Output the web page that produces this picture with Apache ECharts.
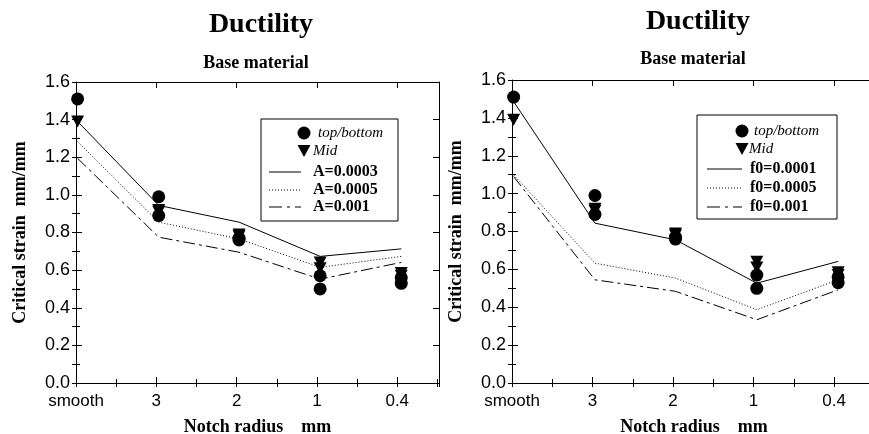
<!DOCTYPE html>
<html>
<head>
<meta charset="utf-8">
<script src="https://cdn.jsdelivr.net/npm/echarts@6/dist/echarts.min.js"></script>
<style>
  html, body { margin: 0; padding: 0; background: #fff; }
  #chart { width: 869px; height: 434px; }
</style>
</head>
<body>
<div id="chart"></div>
<script>
// Notch radius categories and where each specimen group sits on the x scale
const categories = ['smooth', '3', '2', '1', '0.4'];
const radiusPos = [0.02, 1.03, 2.03, 3.04, 4.05];

// Measured critical strain (mm/mm), several specimens per notch radius
const topBottom = [[1.51], [0.99, 0.89], [0.76, 0.77], [0.57, 0.50], [0.56, 0.53]];
const mid = [[1.39], [0.92, 0.91], [0.79, 0.78], [0.64, 0.61], [0.585, 0.57]];

// Model predictions, left panel (parameter A)
const seriesA = ['A=0.0003', 'A=0.0005', 'A=0.001'];
const predA0003 = [1.39, 0.944, 0.855, 0.673, 0.713];
const predA0005 = [1.283, 0.855, 0.766, 0.615, 0.673];
const predA001 = [1.194, 0.775, 0.695, 0.552, 0.641];

// Model predictions, right panel (initial porosity f0)
const seriesF = ['f0=0.0001', 'f0=0.0005', 'f0=0.001'];
const predF0001 = [1.486, 0.844, 0.756, 0.527, 0.642];
const predF0005 = [1.099, 0.633, 0.554, 0.387, 0.545];
const predF001 = [1.09, 0.545, 0.484, 0.334, 0.492];

const yTicks = [0, 0.2, 0.4, 0.6, 0.8, 1.0, 1.2, 1.4, 1.6];

const SERIF = '"Liberation Serif", "Times New Roman", serif';
const SANS = '"Liberation Sans", Arial, sans-serif';
const X_MAX = 4.52;
const Y_MAX = yTicks[yTicks.length - 1];
const LINE_TYPES = ['solid', [1, 2], [12, 4, 3, 4]];

const chart = echarts.init(document.getElementById('chart'), null, { renderer: 'canvas' });

const xAxes = [];
const yAxes = [];
const series = [];

// Boxed frame: labelled bottom/left axes, mirrored ticks on top/right
function addFrame(grid) {
  const base = xAxes.length;
  const tick = (len) => ({ show: true, inside: true, length: len, lineStyle: { color: '#000', width: 1 } });
  const line = { show: true, onZero: false, lineStyle: { color: '#000', width: 1 } };
  const noLine = { show: false };
  const xCommon = { gridIndex: grid, type: 'value', min: 0, max: X_MAX, splitLine: { show: false } };
  const yCommon = { gridIndex: grid, type: 'value', min: 0, max: Y_MAX, splitLine: { show: false } };

  xAxes.push(Object.assign({}, xCommon, {
    position: 'bottom', interval: 1, axisLine: line, axisTick: tick(6),
    axisLabel: {
      color: '#000', fontFamily: SANS, fontSize: 17, margin: 10,
      formatter: (v) => (Number.isInteger(v) && categories[v] !== undefined ? categories[v] : '')
    },
    name: 'Notch radius    mm', nameLocation: 'middle', nameGap: 35,
    nameTextStyle: { color: '#000', fontFamily: SERIF, fontWeight: 'bold', fontSize: 18 }
  }));
  xAxes.push(Object.assign({}, xCommon, { position: 'bottom', interval: 0.5, axisLine: noLine, axisTick: tick(4), axisLabel: { show: false } }));
  xAxes.push(Object.assign({}, xCommon, { position: 'top', interval: 1, axisLine: line, axisTick: tick(6), axisLabel: { show: false } }));
  xAxes.push(Object.assign({}, xCommon, { position: 'top', interval: 0.5, axisLine: noLine, axisTick: tick(4), axisLabel: { show: false } }));

  yAxes.push(Object.assign({}, yCommon, {
    position: 'left', interval: 0.2, axisLine: line, axisTick: tick(6),
    axisLabel: { color: '#000', fontFamily: SANS, fontSize: 18, margin: 6, formatter: (v) => v.toFixed(1) },
    name: 'Critical strain  mm/mm', nameLocation: 'middle', nameGap: 47,
    nameTextStyle: { color: '#000', fontFamily: SERIF, fontWeight: 'bold', fontSize: 18 }
  }));
  yAxes.push(Object.assign({}, yCommon, { position: 'left', interval: 0.1, axisLine: noLine, axisTick: tick(4), axisLabel: { show: false } }));
  yAxes.push(Object.assign({}, yCommon, { position: 'right', interval: 0.2, axisLine: line, axisTick: tick(6), axisLabel: { show: false } }));
  yAxes.push(Object.assign({}, yCommon, { position: 'right', interval: 0.1, axisLine: noLine, axisTick: tick(4), axisLabel: { show: false } }));
  return base;
}

function pointsFrom(groups) {
  const pts = [];
  groups.forEach((vals, i) => vals.forEach((v) => pts.push([radiusPos[i], v])));
  return pts;
}

function addPanel(grid, names, preds) {
  const axisIdx = addFrame(grid);
  preds.forEach((vals, k) => {
    series.push({
      name: names[k], type: 'line', xAxisIndex: axisIdx, yAxisIndex: axisIdx,
      data: vals.map((v, i) => [radiusPos[i], v]),
      symbol: 'none', silent: true, z: 2,
      lineStyle: { color: '#000', width: 1, type: LINE_TYPES[k] }
    });
  });
  series.push({
    name: 'top/bottom', type: 'scatter', xAxisIndex: axisIdx, yAxisIndex: axisIdx,
    data: pointsFrom(topBottom), symbol: 'circle', symbolSize: 13, z: 3,
    itemStyle: { color: '#000', opacity: 1 }
  });
  series.push({
    name: 'Mid', type: 'scatter', xAxisIndex: axisIdx, yAxisIndex: axisIdx,
    data: pointsFrom(mid), symbol: 'triangle', symbolRotate: 180, symbolSize: [13, 12], z: 3,
    itemStyle: { color: '#000', opacity: 1 }
  });
}

addPanel(0, seriesA, [predA0003, predA0005, predA001]);
addPanel(1, seriesF, [predF0001, predF0005, predF001]);

// Framed key drawn inside each panel
function legendBox(box, names) {
  const els = [];
  els.push({ type: 'rect', shape: { x: box.x, y: box.y, width: box.w, height: box.h },
    style: { fill: '#fff', stroke: '#000', lineWidth: 1 }, z: 10 });
  const r = box.rows;
  els.push({ type: 'circle', shape: { cx: box.mx, cy: r[0], r: 6.5 }, style: { fill: '#000' }, z: 11 });
  els.push({ type: 'text', x: box.tx0, y: r[0], z: 11,
    style: { text: 'top/bottom', font: 'italic 15px ' + SERIF, fill: '#000', verticalAlign: 'middle' } });
  els.push({ type: 'polygon', shape: { points: [[box.mx - 6.5, r[1] - 6], [box.mx + 6.5, r[1] - 6], [box.mx, r[1] + 6]] },
    style: { fill: '#000' }, z: 11 });
  els.push({ type: 'text', x: box.tx1, y: r[1], z: 11,
    style: { text: 'Mid', font: 'italic 15px ' + SERIF, fill: '#000', verticalAlign: 'middle' } });
  names.forEach((n, k) => {
    const y = r[2 + k];
    els.push({ type: 'line', shape: { x1: box.lx1, y1: y, x2: box.lx2, y2: y }, z: 11,
      style: { stroke: '#000', lineWidth: 1, lineDash: k === 0 ? null : (k === 1 ? [1, 2] : [13, 5, 3, 5]) } });
    els.push({ type: 'text', x: box.tx2, y: y, z: 11,
      style: { text: n, font: 'bold 16px ' + SERIF, fill: '#000', verticalAlign: 'middle' } });
  });
  return els;
}

function titleText(text, x, y, size) {
  return { type: 'text', x: x, y: y, z: 11,
    style: { text: text, font: 'bold ' + size + 'px ' + SERIF, fill: '#000', align: 'center', verticalAlign: 'middle' } };
}

const graphics = [].concat(
  titleText('Ductility', 261, 25, 28),
  titleText('Base material', 256, 63, 18),
  titleText('Ductility', 698, 22, 28),
  titleText('Base material', 693, 59, 18),
  legendBox({ x: 261, y: 119, w: 137, h: 102, mx: 304, tx0: 318, tx1: 313, lx1: 269, lx2: 301, tx2: 313,
    rows: [133, 151, 172, 190, 207] }, seriesA),
  legendBox({ x: 697, y: 115, w: 140, h: 104, mx: 742, tx0: 754, tx1: 749, lx1: 707, lx2: 742, tx2: 750,
    rows: [131, 149, 169, 188, 207] }, seriesF)
);

chart.setOption({
  backgroundColor: '#fff',
  animation: false,
  grid: [
    { left: 76, top: 82, width: 363, height: 301, containLabel: false, outerBoundsMode: 'none' },
    { left: 512, top: 80, width: 364, height: 303, containLabel: false, outerBoundsMode: 'none' }
  ],
  xAxis: xAxes,
  yAxis: yAxes,
  series: series,
  graphic: { elements: graphics }
});
</script>
</body>
</html>
